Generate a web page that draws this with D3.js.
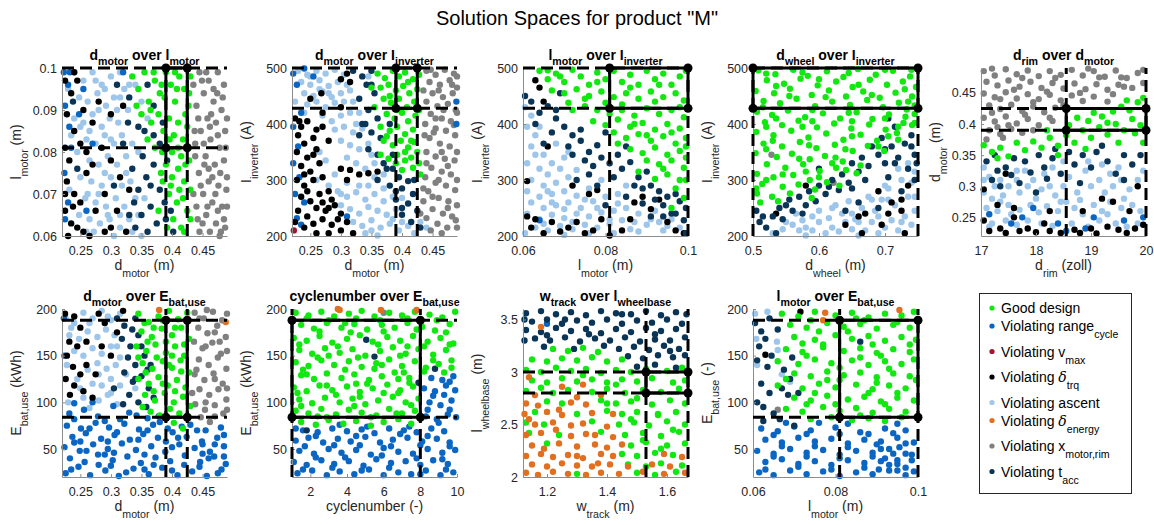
<!DOCTYPE html>
<html>
<head>
<meta charset="utf-8">
<script src="https://cdn.jsdelivr.net/npm/d3@7"></script>
<style>
  body { margin: 0; background: #fff; }
  svg { font-family: "Liberation Sans", Arial, sans-serif; }
</style>
</head>
<body>
<svg id="chart" width="1154" height="525"></svg>
<script>
// ---- categories (legend order) ----
const categoryKeys = ['good', 'range', 'vmax', 'trq', 'ascent', 'energy', 'xmotor', 'tacc']
const categoryLabels = [
  ['Good design'],
  ['Violating range', '_cycle'],
  ['Violating v', '_max'],
  ['Violating ', '*δ', '_trq'],
  ['Violating ascent'],
  ['Violating ', '*δ', '_energy'],
  ['Violating x', '_motor,rim'],
  ['Violating t', '_acc'],
]
const categoryColors = ['#10e810', '#0a66c2', '#a2142f', '#000000', '#9ec6ea', '#e07020', '#808080', '#0b3556']
const drawOrder = ['ascent', 'xmotor', 'range', 'trq', 'tacc', 'good', 'energy', 'vmax']

// ---- panel 1: d_motor over l_motor ----
const p1Xmotor = [[0.445,0.099],[0.46,0.097],[0.475,0.099],[0.485,0.096],[0.452,0.094],[0.468,0.092],[0.481,0.09],[0.44,0.091],[0.458,0.088],[0.472,0.087],[0.487,0.085],[0.447,0.085],[0.463,0.083],[0.478,0.081],[0.438,0.079],[0.455,0.079],[0.47,0.077],[0.485,0.078],[0.444,0.075],[0.46,0.073],[0.476,0.072],[0.489,0.071],[0.451,0.07],[0.466,0.068],[0.482,0.067],[0.44,0.067],[0.456,0.065],[0.472,0.063],[0.487,0.062],[0.445,0.061],[0.462,0.061],[0.478,0.06],[0.468,0.095],[0.449,0.097],[0.483,0.093],[0.464,0.089],[0.475,0.084],[0.452,0.082],[0.488,0.081],[0.46,0.076],[0.447,0.072],[0.479,0.075],[0.471,0.07],[0.458,0.067],[0.485,0.064],[0.437,0.085],[0.442,0.064],[0.466,0.074],[0.453,0.077],[0.48,0.061],
  [0.435,0.096],[0.49,0.088],[0.443,0.088],[0.49,0.074],[0.435,0.07],[0.45,0.063],[0.49,0.067],[0.475,0.066],[0.462,0.086],[0.438,0.082],[0.456,0.099],[0.474,0.094]]
const p1Good = [[0.335,0.098],[0.345,0.095],[0.355,0.099],[0.362,0.092],[0.372,0.097],[0.38,0.094],[0.39,0.099],[0.398,0.096],[0.405,0.092],[0.412,0.098],[0.42,0.095],[0.427,0.091],[0.35,0.089],[0.366,0.087],[0.378,0.089],[0.386,0.085],[0.395,0.088],[0.403,0.084],[0.41,0.087],[0.418,0.083],[0.425,0.086],[0.36,0.083],[0.372,0.081],[0.384,0.08],[0.4,0.08],[0.415,0.079],[0.43,0.098],[0.342,0.091],[0.388,0.093],[0.408,0.095],[0.422,0.089],[0.396,0.083],[0.39,0.077],[0.4,0.074],[0.41,0.076],[0.42,0.073],[0.428,0.078],[0.395,0.07],[0.408,0.068],[0.418,0.069],[0.425,0.066],[0.402,0.064],[0.415,0.062],[0.385,0.073],[0.43,0.071],[0.378,0.066],[0.392,0.062],[0.412,0.071],[0.422,0.077],
  [0.37,0.099],[0.383,0.096],[0.405,0.099],[0.392,0.083],[0.428,0.094],[0.365,0.09],[0.41,0.081],[0.43,0.064],[0.42,0.061],[0.398,0.072],[0.382,0.075]]
const p1Tacc = [[0.31,0.096],[0.33,0.093],[0.345,0.086],[0.36,0.096],[0.37,0.084],[0.352,0.079],[0.335,0.076],[0.345,0.071],[0.358,0.074],[0.37,0.077],[0.38,0.071],[0.365,0.067],[0.35,0.065],[0.338,0.068],[0.375,0.063],[0.388,0.068],[0.36,0.061],[0.392,0.078],[0.32,0.082],[0.398,0.066],[0.34,0.062],[0.305,0.072],[0.37,0.091],[0.385,0.087],[0.328,0.087],[0.238,0.092],[0.245,0.076],
  [0.355,0.085],[0.38,0.082],[0.39,0.064],[0.365,0.072],[0.33,0.065],[0.402,0.061]]
const p1Ascent = [[0.24,0.099],[0.255,0.097],[0.27,0.099],[0.285,0.096],[0.3,0.098],[0.315,0.099],[0.248,0.093],[0.262,0.092],[0.278,0.094],[0.292,0.091],[0.305,0.093],[0.322,0.095],[0.24,0.088],[0.255,0.087],[0.27,0.089],[0.285,0.086],[0.298,0.088],[0.312,0.087],[0.328,0.09],[0.26,0.083],[0.275,0.082],[0.29,0.084],[0.305,0.082],[0.318,0.084],[0.335,0.082],[0.245,0.08],[0.265,0.078],[0.28,0.077],[0.295,0.079],[0.31,0.077],[0.325,0.079],[0.25,0.074],[0.268,0.073],[0.285,0.072],[0.3,0.074],[0.318,0.072],[0.332,0.073],[0.258,0.069],[0.275,0.068],[0.292,0.067],[0.308,0.069],[0.322,0.067],[0.34,0.069],[0.248,0.065],[0.265,0.064],[0.282,0.063],[0.298,0.064],[0.315,0.062],[0.33,0.064],[0.35,0.06],[0.272,0.061],[0.305,0.06],[0.355,0.069],[0.36,0.088],[0.345,0.08],[0.315,0.093],[0.28,0.09],[0.262,0.07],[0.29,0.075],[0.235,0.084],[0.232,0.071],[0.34,0.096],[0.35,0.092],
  [0.23,0.095],[0.265,0.085],[0.29,0.095],[0.31,0.09],[0.26,0.061],[0.28,0.07],[0.315,0.065],[0.335,0.061],[0.3,0.083],[0.325,0.075],[0.345,0.065],[0.25,0.086],[0.275,0.097],[0.295,0.065],[0.33,0.096]]
const p1Trq = [[0.225,0.097],[0.235,0.094],[0.228,0.089],[0.24,0.085],[0.225,0.081],[0.232,0.078],[0.228,0.073],[0.24,0.07],[0.225,0.066],[0.235,0.063],[0.245,0.062],[0.255,0.061],[0.265,0.06],[0.26,0.075],[0.275,0.066],[0.29,0.07],[0.3,0.062],[0.31,0.066],[0.285,0.081],[0.3,0.089],[0.32,0.091],[0.245,0.097],[0.25,0.082],[0.27,0.087],[0.315,0.074],[0.325,0.061],[0.26,0.08],[0.28,0.092],[0.33,0.071],[0.23,0.06],
  [0.225,0.07],[0.238,0.067],[0.25,0.068],[0.27,0.077],[0.29,0.061],[0.255,0.09],[0.3,0.078],[0.24,0.099]]
const p1Range = [[0.223,0.099],[0.23,0.096],[0.225,0.091],[0.232,0.086],[0.224,0.075],[0.23,0.068],[0.225,0.064],[0.235,0.081],[0.248,0.089],[0.255,0.095],[0.27,0.082],[0.26,0.066],[0.233,0.099],[0.32,0.099]]

// ---- panel 2: d_motor over I_inverter ----
const p2Xmotor = [[0.44,495],[0.455,488],[0.47,497],[0.485,490],[0.445,475],[0.462,470],[0.478,478],[0.49,465],[0.45,455],[0.467,448],[0.483,455],[0.44,440],[0.458,432],[0.475,436],[0.488,425],[0.447,418],[0.465,410],[0.48,405],[0.438,400],[0.455,392],[0.472,388],[0.487,380],[0.445,375],[0.462,365],[0.478,360],[0.44,350],[0.455,342],[0.47,338],[0.486,335],[0.448,322],[0.465,315],[0.48,310],[0.438,305],[0.455,295],[0.472,290],[0.487,282],[0.443,280],[0.46,268],[0.476,262],[0.49,255],[0.435,262],[0.45,248],[0.467,240],[0.482,235],[0.44,232],[0.458,222],[0.474,215],[0.488,228],[0.43,240],[0.447,210],[0.465,205],[0.435,285],[0.482,470],[0.468,425],[0.452,385],[0.475,325],[0.46,300],
  [0.447,497],[0.49,485],[0.435,460],[0.46,460],[0.49,420],[0.437,380],[0.49,350],[0.44,330],[0.49,300],[0.45,270],[0.49,215],[0.475,250],[0.465,350],[0.455,410],[0.485,398]]
const p2Good = [[0.36,490],[0.372,482],[0.385,495],[0.395,485],[0.405,492],[0.418,480],[0.428,488],[0.365,465],[0.378,470],[0.39,460],[0.402,468],[0.412,455],[0.425,462],[0.37,445],[0.382,438],[0.395,445],[0.408,430],[0.42,440],[0.375,418],[0.388,410],[0.4,420],[0.41,405],[0.422,415],[0.365,395],[0.38,388],[0.392,395],[0.405,382],[0.418,390],[0.37,370],[0.385,362],[0.398,370],[0.41,358],[0.42,368],[0.365,345],[0.378,338],[0.392,345],[0.405,335],[0.415,340],[0.425,350],[0.4,318],[0.418,322],[0.43,310],[0.35,465],[0.355,430],
  [0.38,450],[0.41,475],[0.392,425],[0.428,425],[0.375,378],[0.415,370],[0.39,330],[0.428,330],[0.405,350]]
const p2Tacc = [[0.32,495],[0.335,485],[0.35,495],[0.342,470],[0.355,455],[0.33,445],[0.345,425],[0.36,410],[0.335,400],[0.35,385],[0.365,375],[0.38,400],[0.37,330],[0.385,320],[0.395,305],[0.41,298],[0.4,285],[0.418,275],[0.38,290],[0.39,265],[0.41,258],[0.425,245],[0.4,238],[0.415,225],[0.43,215],[0.36,300],[0.36,345],[0.345,355],[0.385,345],[0.42,300],[0.33,380],
  [0.35,470],[0.34,400],[0.39,280],[0.4,250],[0.375,320]]
const p2Ascent = [[0.23,495],[0.245,488],[0.26,495],[0.275,490],[0.29,497],[0.305,488],[0.235,475],[0.25,470],[0.265,478],[0.28,468],[0.295,475],[0.31,470],[0.24,455],[0.255,450],[0.27,458],[0.285,448],[0.3,455],[0.315,460],[0.245,435],[0.26,440],[0.275,430],[0.29,438],[0.32,440],[0.27,415],[0.285,405],[0.3,415],[0.315,420],[0.33,420],[0.29,390],[0.305,395],[0.32,385],[0.335,392],[0.3,370],[0.315,362],[0.33,355],[0.345,365],[0.31,340],[0.325,330],[0.34,320],[0.355,330],[0.265,350],[0.275,335],[0.26,300],[0.28,290],[0.295,280],[0.31,270],[0.325,278],[0.34,265],[0.355,275],[0.37,262],[0.385,270],[0.3,255],[0.315,248],[0.33,240],[0.345,252],[0.36,245],[0.375,238],[0.39,248],[0.32,225],[0.335,218],[0.35,228],[0.365,215],[0.38,222],[0.395,210],[0.41,218],[0.42,205],[0.34,205],[0.36,201],[0.44,215],[0.43,225],[0.355,305],[0.37,310],[0.4,268],[0.29,310],[0.345,290],
  [0.24,420],[0.225,440],[0.28,455],[0.305,440],[0.325,400],[0.35,345],[0.31,295],[0.33,290],[0.37,285],[0.385,230],[0.4,225],[0.35,210],[0.3,275],[0.265,462],[0.25,485],[0.345,485]]
const p2Trq = [[0.225,410],[0.235,395],[0.245,405],[0.23,380],[0.24,365],[0.255,375],[0.228,350],[0.245,340],[0.26,355],[0.235,325],[0.25,315],[0.265,330],[0.228,300],[0.24,290],[0.255,300],[0.27,305],[0.235,270],[0.25,262],[0.265,275],[0.28,280],[0.285,265],[0.23,245],[0.245,235],[0.26,250],[0.275,245],[0.29,255],[0.24,215],[0.255,222],[0.27,230],[0.285,220],[0.3,240],[0.31,225],[0.3,210],[0.32,205],[0.26,205],[0.28,205],[0.26,390],[0.28,370],[0.3,320],[0.315,318],[0.33,310],[0.345,312],[0.25,445],[0.268,455],[0.3,430],[0.31,490],[0.315,475],[0.3,480],[0.27,420],[0.36,315],
  [0.232,405],[0.27,395],[0.255,345],[0.24,310],[0.28,250],[0.295,230],[0.245,280],[0.27,260],[0.225,225],[0.31,300]]
const p2Range = [[0.222,490],[0.228,470],[0.24,499],[0.255,485],[0.235,420],[0.222,395],[0.23,360],[0.222,330],[0.232,305],[0.225,275],[0.24,260],[0.228,232],[0.235,220],[0.31,235],[0.489,440],[0.489,400]]
const p2Vmax = [[0.223,210]]

// ---- panel 3: l_motor over I_inverter ----
const p3Good = [[0.064,495],[0.066,480],[0.068,490],[0.07,475],[0.072,497],[0.074,485],[0.076,470],[0.078,492],[0.08,480],[0.082,495],[0.084,475],[0.086,488],[0.088,470],[0.09,495],[0.092,480],[0.094,490],[0.096,470],[0.098,485],[0.0995,495],[0.067,460],[0.07,455],[0.073,462],[0.076,450],[0.079,458],[0.082,448],[0.085,455],[0.088,445],[0.091,458],[0.094,448],[0.097,455],[0.099,442],[0.071,438],[0.075,432],[0.078,425],[0.081,418],[0.084,425],[0.087,415],[0.09,428],[0.093,418],[0.096,425],[0.099,412],[0.077,405],[0.08,398],[0.083,408],[0.086,395],[0.089,402],[0.092,390],[0.095,400],[0.098,392],[0.082,385],[0.085,375],[0.088,382],[0.091,370],[0.094,378],[0.097,365],[0.0995,375],[0.086,355],[0.089,348],[0.092,358],[0.095,345],[0.098,352],[0.09,335],[0.093,328],[0.096,335],[0.099,322],[0.088,315],[0.095,310],[0.098,300],[0.092,302],[0.097,285],[0.099,268],[0.075,445],[0.072,425],[0.08,438],[0.083,365],[0.096,250],[0.0995,340],
  [0.078,475],[0.086,465],[0.093,470],[0.069,485],[0.084,435],[0.092,440],[0.098,430],[0.087,400],[0.096,385],[0.09,380],[0.0995,360],[0.094,320],[0.0995,300],[0.066,496]]
const p3Tacc = [[0.0605,450],[0.062,440],[0.064,420],[0.066,432],[0.068,410],[0.07,395],[0.067,385],[0.072,380],[0.074,370],[0.071,360],[0.076,350],[0.078,362],[0.075,335],[0.079,340],[0.081,330],[0.083,345],[0.084,320],[0.086,332],[0.082,305],[0.088,305],[0.09,315],[0.087,290],[0.091,290],[0.093,280],[0.092,265],[0.095,270],[0.097,275],[0.094,255],[0.098,262],[0.096,240],[0.0995,250],[0.099,228],[0.085,360],[0.08,385],[0.065,365],[0.069,455],[0.072,345],[0.076,310],[0.078,290],[0.085,270],[0.089,258],[0.08,255],[0.073,300],[0.063,400],[0.0995,205],[0.091,235],
  [0.068,425],[0.074,390],[0.077,325],[0.089,285],[0.097,240],[0.094,235]]
const p3Ascent = [[0.0605,430],[0.062,415],[0.061,395],[0.063,380],[0.062,360],[0.065,345],[0.061,330],[0.064,320],[0.067,330],[0.066,310],[0.069,320],[0.07,340],[0.062,300],[0.065,290],[0.068,295],[0.071,305],[0.073,318],[0.061,280],[0.064,270],[0.067,275],[0.07,280],[0.073,272],[0.076,285],[0.062,260],[0.065,250],[0.068,255],[0.071,260],[0.074,250],[0.077,262],[0.08,270],[0.083,275],[0.061,240],[0.064,230],[0.067,238],[0.07,232],[0.073,240],[0.076,235],[0.079,242],[0.082,245],[0.085,250],[0.088,240],[0.063,215],[0.066,210],[0.069,218],[0.072,212],[0.075,220],[0.078,215],[0.081,222],[0.084,228],[0.087,225],[0.09,220],[0.093,225],[0.096,230],[0.07,202],[0.076,205],[0.082,205],[0.088,208],[0.094,210],[0.098,215],[0.085,290],[0.079,300],[0.071,350],[0.068,365],[0.064,395],[0.066,280],[0.092,245],
  [0.063,345],[0.067,260],[0.075,265],[0.072,290],[0.078,250],[0.081,230],[0.086,212],[0.091,230],[0.095,218],[0.065,222],[0.072,225],[0.0605,205],[0.083,258],[0.07,248]]
const p3Trq = [[0.061,235],[0.063,230],[0.062,215],[0.065,205],[0.067,225],[0.069,208],[0.071,215],[0.073,225],[0.075,205],[0.077,210],[0.079,230],[0.081,201],[0.084,210],[0.087,260],[0.089,270],[0.091,248],[0.093,265],[0.095,225],[0.097,210],[0.099,205],[0.072,290],[0.076,275],[0.078,282],[0.064,465],[0.066,360],[0.061,298],[0.086,230],[0.065,440],[0.063,478]]
const p3Range = [[0.064,228]]

// ---- panel 4: d_wheel over I_inverter ----
const p4Good = [[0.508,496],[0.534,489],[0.561,497],[0.583,486],[0.612,494],[0.637,484],[0.659,498],[0.686,488],[0.712,495],[0.738,485],[0.521,478],[0.547,472],[0.572,481],[0.598,469],[0.626,476],[0.651,466],[0.677,479],[0.703,470],[0.727,476],[0.747,466],[0.504,459],[0.532,455],[0.556,463],[0.589,452],[0.615,460],[0.641,449],[0.667,458],[0.692,447],[0.716,456],[0.741,449],[0.516,441],[0.541,437],[0.566,445],[0.594,432],[0.62,440],[0.647,434],[0.673,443],[0.697,430],[0.721,438],[0.745,433],[0.506,422],[0.529,416],[0.553,424],[0.579,412],[0.606,419],[0.632,410],[0.657,421],[0.681,409],[0.706,417],[0.731,413],[0.518,403],[0.544,398],[0.569,406],[0.597,394],[0.623,401],[0.649,392],[0.676,399],[0.701,390],[0.741,398],[0.505,386],[0.531,380],[0.558,388],[0.584,376],[0.611,383],[0.637,372],[0.663,381],[0.688,370],[0.718,384],[0.516,365],[0.544,360],[0.571,368],[0.596,357],[0.624,363],[0.651,352],[0.674,361],[0.699,352],[0.504,348],[0.536,341],[0.559,347],[0.586,337],[0.609,343],[0.636,333],[0.663,326],[0.521,328],[0.549,322],[0.576,328],[0.601,316],[0.626,322],[0.657,312],[0.506,311],[0.531,305],[0.561,309],[0.586,300],[0.612,296],[0.641,318],[0.514,293],[0.545,288],[0.569,292],[0.594,283],[0.631,290],[0.506,276],[0.529,270],[0.556,276],[0.589,268],[0.511,260],[0.538,262],[0.728,402],[0.745,418],[0.733,426],[0.72,372],
  [0.52,490],[0.575,492],[0.645,491],[0.7,497],[0.74,497],[0.535,468],[0.6,480],[0.66,470],[0.73,462],[0.555,450],[0.61,448],[0.68,452],[0.735,440],[0.515,430],[0.59,425],[0.645,420],[0.7,410],[0.745,402],[0.535,410],[0.59,405],[0.65,405],[0.72,395],[0.52,395],[0.575,395],[0.65,378],[0.705,378],[0.53,370],[0.585,362],[0.64,355],[0.69,360],[0.52,355],[0.57,338],[0.625,340],[0.545,310],[0.6,305],[0.52,300],[0.58,315],[0.62,330],[0.505,285]]
const p4Tacc = [[0.505,245],[0.51,225],[0.52,215],[0.53,235],[0.54,250],[0.545,230],[0.555,265],[0.56,245],[0.57,270],[0.58,255],[0.585,280],[0.595,262],[0.6,290],[0.61,275],[0.62,300],[0.63,282],[0.635,310],[0.645,295],[0.65,330],[0.66,315],[0.665,340],[0.675,325],[0.68,360],[0.69,345],[0.695,375],[0.7,330],[0.71,360],[0.715,395],[0.72,340],[0.73,365],[0.735,320],[0.745,345],[0.74,380],[0.745,300],[0.725,280],[0.705,305],[0.66,260],[0.64,245],[0.69,250],[0.65,285],[0.535,205],[0.6,320],[0.705,410],[0.575,240],
  [0.515,235],[0.55,255],[0.615,288],[0.67,300],[0.74,360],[0.748,330],[0.715,330],[0.7,355]]
const p4Ascent = [[0.53,205],[0.545,212],[0.56,220],[0.575,228],[0.59,235],[0.6,245],[0.615,232],[0.625,255],[0.635,240],[0.645,262],[0.655,230],[0.665,250],[0.675,270],[0.685,245],[0.695,265],[0.705,285],[0.715,255],[0.725,300],[0.735,270],[0.745,245],[0.74,220],[0.73,235],[0.72,210],[0.71,228],[0.7,215],[0.69,205],[0.68,225],[0.67,210],[0.66,201],[0.65,212],[0.64,225],[0.63,208],[0.62,215],[0.61,205],[0.59,210],[0.58,215],[0.55,225],[0.565,240],[0.72,320],[0.735,330],[0.745,315],[0.7,290],[0.65,240],[0.58,201],
  [0.6,225],[0.62,250],[0.66,225],[0.69,235],[0.705,265],[0.745,270],[0.74,295],[0.725,225],[0.57,210],[0.68,265]]
const p4Trq = [[0.535,240],[0.58,290],[0.64,220],[0.665,205],[0.67,240],[0.69,280],[0.695,220],[0.71,260],[0.725,265],[0.73,205],[0.735,290],[0.725,245],[0.66,235],[0.705,240]]
const p4Xmotor = [[0.528,345],[0.622,295]]

// ---- panel 5: d_rim over d_motor ----
const p5Xmotor = [[17.05,0.485],[17.25,0.478],[17.45,0.488],[17.65,0.48],[17.85,0.486],[18.05,0.477],[18.25,0.485],[18.45,0.479],[18.65,0.487],[18.85,0.478],[19.05,0.485],[19.25,0.476],[19.45,0.486],[19.65,0.474],[19.85,0.482],[17.1,0.468],[17.3,0.462],[17.5,0.47],[17.7,0.46],[17.9,0.468],[18.1,0.458],[18.3,0.466],[18.5,0.457],[18.7,0.465],[18.9,0.456],[19.1,0.464],[19.3,0.455],[19.5,0.463],[19.75,0.458],[19.95,0.466],[17.05,0.449],[17.25,0.443],[17.45,0.451],[17.65,0.441],[17.85,0.448],[18.05,0.44],[18.25,0.447],[18.45,0.438],[18.65,0.446],[18.85,0.437],[19.05,0.444],[19.3,0.436],[17.15,0.43],[17.35,0.424],[17.55,0.431],[17.75,0.421],[17.95,0.428],[18.15,0.419],[18.35,0.426],[17.05,0.41],[17.25,0.404],[17.45,0.412],[17.65,0.401],[17.85,0.408],[18.05,0.398],[18.3,0.405],[17.15,0.39],[17.35,0.384],[17.55,0.392],[17.75,0.386],[17.95,0.39],[17.1,0.375],[17.4,0.378],
  [17.2,0.489],[17.75,0.474],[18.35,0.474],[18.95,0.489],[19.55,0.475],[19.95,0.487],[17.6,0.455],[18.2,0.452],[18.8,0.45],[19.4,0.448],[17.35,0.44],[17.95,0.435],[18.5,0.43],[17.2,0.418],[17.8,0.415],[18.25,0.41],[17.5,0.398],[17.3,0.395],[19.15,0.475],[19.6,0.46]]
const p5Good = [[17.05,0.366],[17.2,0.355],[17.35,0.362],[17.5,0.348],[17.65,0.37],[17.8,0.358],[17.95,0.372],[18.1,0.362],[18.25,0.378],[18.4,0.365],[18.55,0.382],[18.7,0.37],[18.85,0.39],[19.0,0.378],[19.15,0.395],[19.3,0.383],[19.45,0.4],[19.6,0.39],[19.75,0.408],[19.9,0.398],[18.2,0.39],[18.6,0.398],[18.95,0.405],[19.2,0.412],[19.4,0.42],[19.55,0.428],[19.7,0.422],[19.85,0.435],[19.95,0.442],[19.65,0.438],[19.05,0.418],[18.75,0.41],[19.3,0.402],[19.8,0.385],[18.4,0.35],[18.9,0.36],[19.5,0.37],[17.3,0.345],[19.95,0.37]]
const p5Tacc = [[17.1,0.34],[17.3,0.325],[17.2,0.31],[17.45,0.33],[17.6,0.345],[17.55,0.318],[17.8,0.34],[17.9,0.322],[18.05,0.35],[18.15,0.33],[18.3,0.345],[18.2,0.312],[18.45,0.32],[18.6,0.355],[18.7,0.335],[18.85,0.35],[19.0,0.33],[19.1,0.355],[19.3,0.34],[19.45,0.32],[19.6,0.35],[19.75,0.335],[19.9,0.35],[17.35,0.3],[18.0,0.29],[18.8,0.305],
  [17.25,0.35],[18.35,0.36],[19.2,0.365],[17.7,0.305],[19.6,0.31]]
const p5Ascent = [[17.05,0.33],[17.15,0.315],[17.25,0.3],[17.35,0.31],[17.05,0.29],[17.2,0.28],[17.4,0.285],[17.5,0.3],[17.65,0.31],[17.7,0.29],[17.85,0.3],[17.95,0.31],[18.1,0.295],[18.25,0.3],[18.35,0.285],[18.5,0.3],[18.6,0.315],[18.75,0.29],[18.9,0.325],[19.0,0.3],[19.15,0.31],[19.25,0.29],[19.4,0.3],[19.55,0.31],[19.7,0.295],[19.85,0.31],[19.95,0.325],[17.1,0.265],[17.3,0.26],[17.5,0.27],[17.7,0.262],[17.9,0.27],[18.05,0.258],[18.2,0.268],[18.4,0.26],[18.55,0.275],[18.7,0.265],[18.85,0.255],[19.05,0.27],[19.2,0.26],[19.35,0.275],[19.55,0.265],[19.75,0.27],[19.9,0.26],[17.2,0.24],[17.45,0.245],[17.65,0.238],[17.85,0.245],[18.1,0.24],[18.3,0.236],[18.65,0.24],[18.95,0.235],[19.15,0.245],[19.45,0.24],[19.65,0.235],[19.85,0.24],[18.5,0.34],[18.3,0.33],[19.2,0.335],[17.8,0.325],[18.95,0.34],[19.5,0.33],
  [17.35,0.275],[17.55,0.255],[18.0,0.28],[18.45,0.275],[18.8,0.278],[19.3,0.255],[19.6,0.28],[17.15,0.235],[17.05,0.31],[18.15,0.32],[19.35,0.32],[17.65,0.325]]
const p5Trq = [[17.05,0.245],[17.15,0.228],[17.35,0.232],[17.45,0.225],[17.6,0.25],[17.7,0.228],[17.85,0.232],[18.0,0.226],[18.15,0.24],[18.25,0.228],[18.45,0.225],[18.7,0.23],[18.8,0.225],[19.0,0.232],[19.1,0.224],[19.3,0.235],[19.5,0.23],[19.65,0.225],[19.8,0.232],[19.95,0.238],[17.05,0.295],[17.3,0.27],[17.45,0.32],[18.25,0.26],[19.2,0.28],[19.4,0.275],[19.7,0.26],[19.85,0.3],[18.85,0.26],[17.6,0.265]]
const p5Range = [[17.15,0.255],[17.55,0.24],[17.75,0.25],[18.4,0.24],[18.9,0.232],[19.05,0.25],[19.6,0.245],[19.95,0.25],[17.95,0.265],[18.55,0.228]]

// ---- panel 6: d_motor over E_bat,use ----
const p6Range = [[0.226,24],[0.247,31],[0.266,22],[0.291,27],[0.313,21],[0.337,29],[0.362,23],[0.384,30],[0.409,22],[0.433,26],[0.457,21],[0.481,28],[0.233,40],[0.257,36],[0.279,44],[0.303,38],[0.327,42],[0.349,35],[0.373,41],[0.397,37],[0.421,43],[0.446,36],[0.469,42],[0.488,34],[0.224,52],[0.249,48],[0.271,55],[0.295,50],[0.318,56],[0.341,49],[0.366,53],[0.389,47],[0.412,55],[0.437,51],[0.462,47],[0.485,53],[0.237,63],[0.259,67],[0.284,61],[0.306,65],[0.331,60],[0.353,66],[0.377,62],[0.401,68],[0.424,63],[0.449,58],[0.474,62],[0.228,75],[0.251,72],[0.275,78],[0.297,73],[0.322,77],[0.346,71],[0.369,76],[0.393,72],[0.416,74],[0.441,70],[0.232,88],[0.256,92],[0.279,85],[0.304,96],[0.33,89],[0.36,83],[0.24,99],[0.27,100],[0.315,82],[0.378,85],[0.29,44],[0.355,28],[0.42,33],[0.47,55],[0.25,58],[0.39,58],[0.3,32],[0.45,45],[0.223,190],[0.224,150],
  [0.235,28],[0.28,33],[0.325,25],[0.37,33],[0.4,27],[0.445,31],[0.475,24],[0.26,48],[0.305,46],[0.355,44],[0.4,52],[0.45,55],[0.24,57],[0.295,58],[0.345,60],[0.41,62],[0.485,65],[0.265,72],[0.31,68],[0.36,70],[0.43,76],[0.48,73],[0.455,70],[0.24,82],[0.29,80],[0.38,79],[0.342,86],[0.46,40],[0.485,42]]
const p6Good = [[0.345,195],[0.362,186],[0.378,192],[0.395,198],[0.41,189],[0.425,196],[0.35,176],[0.367,170],[0.383,179],[0.4,172],[0.415,180],[0.428,168],[0.342,160],[0.358,155],[0.373,162],[0.39,153],[0.405,160],[0.42,150],[0.352,142],[0.368,136],[0.385,144],[0.4,137],[0.414,145],[0.428,132],[0.345,125],[0.362,120],[0.378,127],[0.393,118],[0.408,124],[0.422,116],[0.356,108],[0.372,102],[0.388,110],[0.403,100],[0.418,106],[0.43,96],[0.365,90],[0.38,86],[0.397,93],[0.412,88],[0.425,84],[0.403,78],[0.418,72],[0.352,95],[0.39,165],[0.375,148],
  [0.355,185],[0.385,188],[0.405,180],[0.42,162],[0.36,165],[0.395,140],[0.357,132],[0.415,133],[0.385,120],[0.37,112],[0.405,112],[0.4,150],[0.345,148],[0.37,180]]
const p6Xmotor = [[0.437,196],[0.452,190],[0.467,197],[0.482,188],[0.443,180],[0.458,174],[0.474,182],[0.488,170],[0.436,165],[0.45,158],[0.466,164],[0.48,152],[0.444,146],[0.46,140],[0.475,148],[0.489,136],[0.437,130],[0.453,124],[0.468,131],[0.483,120],[0.445,114],[0.461,108],[0.476,114],[0.489,103],[0.438,98],[0.454,92],[0.47,97],[0.484,88],[0.447,84],[0.462,79],[0.433,110],[0.478,165],[0.457,199],
  [0.445,190],[0.49,195],[0.47,175],[0.455,160],[0.49,155],[0.44,135],[0.47,125],[0.49,115],[0.455,100],[0.47,85],[0.49,92]]
const p6Tacc = [[0.31,190],[0.322,182],[0.318,168],[0.332,160],[0.345,172],[0.328,148],[0.34,140],[0.355,150],[0.322,132],[0.336,122],[0.35,128],[0.362,115],[0.33,108],[0.345,100],[0.358,95],[0.37,105],[0.32,98],[0.305,115],[0.335,178],[0.36,135],
  [0.34,190],[0.35,160],[0.365,140],[0.34,125]]
const p6Ascent = [[0.226,190],[0.24,185],[0.255,196],[0.27,190],[0.285,198],[0.3,188],[0.315,195],[0.232,172],[0.248,168],[0.262,176],[0.278,170],[0.292,178],[0.306,172],[0.24,155],[0.255,150],[0.27,158],[0.285,152],[0.3,160],[0.228,140],[0.262,135],[0.278,142],[0.293,136],[0.308,140],[0.245,125],[0.27,120],[0.285,118],[0.3,125],[0.315,118],[0.255,105],[0.28,102],[0.295,108],[0.31,98],[0.23,100],[0.265,94],[0.325,130],[0.34,115],
  [0.235,180],[0.265,185],[0.295,192],[0.31,160],[0.28,130],[0.25,115],[0.3,110],[0.315,148]]
const p6Trq = [[0.225,195],[0.24,192],[0.25,180],[0.232,165],[0.245,160],[0.228,150],[0.26,165],[0.238,138],[0.25,130],[0.226,125],[0.24,118],[0.255,112],[0.275,130],[0.285,160],[0.27,105],[0.29,185],[0.3,150],[0.28,195],[0.26,140],[0.233,108],[0.32,198],[0.31,175]]
const p6Energy = [[0.379,199],[0.488,186]]

// ---- panel 7: cyclenumber over E_bat,use ----
const p7Good = [[1.2,196],[1.9,193],[2.6,197],[3.3,192],[4.1,195],[4.8,198],[5.5,192],[6.3,196],[7.0,193],[7.7,197],[8.5,194],[9.2,191],[9.9,197],[1.5,183],[2.2,179],[2.9,185],[3.7,180],[4.4,184],[5.1,178],[5.9,183],[6.6,180],[7.3,185],[8.1,181],[8.8,177],[9.6,184],[1.1,169],[1.8,166],[2.5,171],[3.2,164],[4.0,168],[4.7,172],[5.4,165],[6.2,170],[6.9,166],[7.6,171],[8.4,165],[9.1,169],[9.8,163],[1.4,156],[2.1,152],[2.8,158],[3.6,153],[4.3,157],[5.0,150],[5.8,155],[6.5,159],[7.2,152],[7.9,157],[8.7,151],[9.4,156],[1.2,143],[1.9,139],[2.6,145],[3.3,140],[4.1,144],[4.8,138],[5.6,142],[6.3,146],[7.0,139],[7.7,144],[8.3,137],[9.0,141],[9.7,145],[1.5,129],[2.2,125],[2.9,131],[3.7,126],[4.4,130],[5.2,124],[5.9,128],[6.6,132],[7.4,126],[8.2,133],[9.3,132],[1.1,116],[1.8,112],[2.5,118],[3.2,113],[4.0,117],[4.7,111],[5.4,115],[6.2,119],[6.9,113],[7.6,117],[1.4,103],[2.1,99],[2.8,105],[3.6,100],[4.3,104],[5.0,98],[5.7,102],[6.5,106],[7.2,100],[7.9,104],[1.2,91],[1.9,88],[2.6,93],[3.4,87],[4.1,92],[4.8,89],[5.6,86],[6.3,93],[7.0,88],[7.7,91],[1.5,79],[2.3,76],[3.0,81],[3.8,77],[4.5,80],[5.3,75],[6.0,79],[6.8,82],[7.5,77],[1.6,135],[3.0,150],[4.5,120],[6.0,110],[7.3,160],[2.4,85],[5.9,140],[3.9,185],[6.8,125],[1.3,110],
  [1.8,190],[3.0,188],[4.5,190],[5.8,188],[7.3,190],[8.9,188],[2.5,176],[4.2,175],[6.0,176],[7.8,178],[9.4,175],[1.4,162],[3.5,160],[5.7,162],[8.2,160],[9.6,162],[2.4,148],[4.6,148],[6.9,150],[8.7,145],[1.8,130],[3.9,135],[5.5,136],[7.1,132],[9.7,137],[2.9,118],[5.1,120],[7.4,121],[3.4,108],[4.7,106],[6.8,110],[1.5,96],[4.4,96],[7.5,97],[2.9,84],[5.3,84],[6.7,88]]
const p7Range = [[1.3,24],[2.1,27],[2.9,22],[3.6,26],[4.4,23],[5.2,28],[6.0,22],[6.8,25],[7.5,23],[8.3,27],[9.1,22],[9.8,25],[1.1,36],[1.8,33],[2.6,38],[3.3,34],[4.1,37],[4.9,32],[5.6,39],[6.4,35],[7.2,37],[8.0,33],[8.7,38],[9.5,34],[1.4,48],[2.2,45],[3.0,50],[3.7,46],[4.5,49],[5.3,44],[6.0,51],[6.8,47],[7.6,45],[8.4,50],[9.2,46],[9.9,49],[1.2,59],[1.9,62],[2.7,57],[3.5,61],[4.2,58],[5.0,63],[5.8,57],[6.5,60],[7.3,62],[8.1,58],[8.9,61],[9.6,57],[1.6,70],[2.4,68],[3.2,72],[4.0,69],[4.8,71],[5.5,67],[6.3,72],[7.1,70],[7.8,68],[8.6,72],[9.3,69],[8.3,85],[8.9,82],[9.5,87],[9.95,84],[8.5,100],[9.1,97],[9.7,102],[8.2,115],[8.8,112],[9.4,118],[9.9,113],[8.6,126],[9.2,124],[9.8,128],[8.4,92],[9.3,108],
  [1.6,28],[3.2,30],[4.8,27],[6.3,30],[8.0,23],[9.4,28],[2.3,41],[3.9,41],[5.9,43],[7.8,40],[9.2,39],[1.7,53],[3.3,54],[4.7,54],[6.4,53],[8.0,54],[9.6,53],[2.3,64],[4.5,64],[6.9,66],[8.4,64],[1.2,72],[3.6,76],[5.1,74],[7.4,74],[9.0,78],[9.6,92],[8.7,107],[9.6,122]]
const p7Tacc = [[5.05,167],[5.5,149],[1.8,70],[8.8,136],[7.9,121]]
const p7Energy = [[3.6,199],[3.5,200],[5.85,199],[7.8,199],[1.05,188]]
const p7Xmotor = [[6.0,196]]

// ---- panel 8: w_track over l_wheelbase ----
const p8Tacc = [[1.13,3.56],[1.18,3.58],[1.23,3.55],[1.28,3.57],[1.33,3.54],[1.38,3.58],[1.43,3.56],[1.48,3.55],[1.53,3.58],[1.58,3.54],[1.63,3.57],[1.665,3.55],[1.15,3.48],[1.2,3.5],[1.25,3.46],[1.3,3.49],[1.35,3.47],[1.4,3.5],[1.45,3.46],[1.5,3.49],[1.55,3.47],[1.6,3.5],[1.65,3.46],[1.13,3.4],[1.18,3.38],[1.23,3.42],[1.28,3.39],[1.33,3.41],[1.38,3.37],[1.43,3.41],[1.48,3.38],[1.53,3.42],[1.58,3.39],[1.63,3.41],[1.16,3.32],[1.21,3.3],[1.26,3.33],[1.31,3.29],[1.36,3.32],[1.41,3.3],[1.46,3.33],[1.51,3.29],[1.56,3.31],[1.61,3.3],[1.66,3.33],[1.19,3.24],[1.29,3.22],[1.39,3.25],[1.44,3.22],[1.49,3.24],[1.54,3.21],[1.59,3.25],[1.64,3.22],[1.47,3.15],[1.52,3.13],[1.57,3.16],[1.62,3.14],[1.66,3.16],[1.5,3.05],[1.56,3.07],[1.63,3.04],[1.125,3.3],[1.125,3.5],
  [1.2,3.35],[1.34,3.36],[1.45,3.55],[1.56,3.36],[1.61,3.2],[1.26,3.5]]
const p8Good = [[1.22,3.22],[1.27,3.2],[1.32,3.23],[1.37,3.19],[1.15,3.12],[1.2,3.1],[1.25,3.13],[1.3,3.11],[1.35,3.14],[1.4,3.1],[1.45,3.12],[1.13,3.02],[1.18,3.0],[1.23,3.04],[1.28,3.01],[1.33,3.03],[1.38,2.99],[1.43,3.02],[1.48,3.0],[1.53,3.03],[1.6,3.01],[1.65,3.04],[1.15,2.92],[1.2,2.9],[1.25,2.94],[1.3,2.91],[1.35,2.93],[1.4,2.9],[1.45,2.93],[1.5,2.91],[1.55,2.94],[1.62,2.9],[1.66,2.92],[1.13,2.82],[1.22,2.8],[1.27,2.83],[1.35,2.81],[1.4,2.84],[1.46,2.8],[1.52,2.83],[1.58,2.81],[1.64,2.84],[1.2,2.72],[1.25,2.7],[1.38,2.73],[1.43,2.7],[1.48,2.72],[1.55,2.69],[1.61,2.73],[1.66,2.7],[1.16,2.62],[1.3,2.6],[1.4,2.63],[1.45,2.6],[1.5,2.62],[1.57,2.59],[1.63,2.62],[1.13,2.52],[1.19,2.5],[1.35,2.53],[1.44,2.5],[1.49,2.52],[1.54,2.49],[1.6,2.53],[1.66,2.5],[1.14,2.42],[1.24,2.4],[1.38,2.43],[1.46,2.4],[1.52,2.42],[1.58,2.39],[1.64,2.43],[1.2,2.32],[1.48,2.3],[1.53,2.33],[1.6,2.3],[1.66,2.32],[1.45,2.22],[1.5,2.2],[1.56,2.23],[1.62,2.21],[1.47,2.12],[1.53,2.1],[1.58,2.13],[1.65,2.11],[1.3,2.03],[1.5,2.04],[1.56,2.02],[1.63,2.05],
  [1.18,2.85],[1.32,2.97],[1.43,2.88],[1.5,2.75],[1.57,2.6],[1.52,2.35],[1.62,2.45],[1.4,2.7],[1.48,2.55],[1.58,2.27]]
const p8Energy = [[1.16,2.78],[1.3,2.76],[1.13,2.7],[1.17,2.68],[1.28,2.71],[1.33,2.69],[1.125,2.6],[1.2,2.62],[1.25,2.59],[1.35,2.61],[1.16,2.5],[1.22,2.52],[1.28,2.49],[1.32,2.51],[1.4,2.48],[1.13,2.4],[1.18,2.42],[1.28,2.39],[1.33,2.41],[1.42,2.38],[1.15,2.3],[1.24,2.32],[1.3,2.29],[1.36,2.31],[1.4,2.28],[1.45,2.31],[1.13,2.2],[1.18,2.22],[1.22,2.19],[1.27,2.21],[1.32,2.18],[1.38,2.22],[1.42,2.2],[1.59,2.22],[1.65,2.19],[1.15,2.12],[1.2,2.1],[1.25,2.13],[1.3,2.11],[1.35,2.1],[1.41,2.12],[1.55,2.12],[1.61,2.1],[1.13,2.04],[1.17,2.02],[1.22,2.05],[1.27,2.03],[1.33,2.02],[1.38,2.04],[1.44,2.03],[1.52,2.05],[1.59,2.03],[1.66,2.04],[1.14,2.95],[1.25,2.86],[1.38,2.78],[1.32,2.88],[1.18,3.43],[1.42,2.6],
  [1.14,2.55],[1.23,2.45],[1.36,2.4],[1.19,2.27],[1.3,2.2],[1.47,2.1],[1.24,2.64],[1.37,2.13]]
const p8Range = [[1.2,3.46]]

// ---- panel 9: l_motor over E_bat,use ----
const p9Range = [[0.0615,25],[0.065,22],[0.069,27],[0.073,23],[0.077,26],[0.081,21],[0.085,25],[0.089,23],[0.093,27],[0.097,22],[0.099,26],[0.063,36],[0.067,39],[0.071,34],[0.075,37],[0.079,33],[0.083,38],[0.087,35],[0.091,37],[0.095,34],[0.0985,38],[0.061,48],[0.065,45],[0.069,50],[0.073,46],[0.077,49],[0.081,44],[0.085,48],[0.089,46],[0.093,50],[0.097,45],[0.063,60],[0.067,57],[0.071,62],[0.075,58],[0.079,61],[0.083,56],[0.087,60],[0.091,58],[0.095,62],[0.099,57],[0.062,72],[0.066,69],[0.07,74],[0.074,70],[0.08,73],[0.086,68],[0.092,72],[0.097,70],[0.092,40],[0.094,45],[0.093,33],[0.095,38],[0.091,50],[0.0955,52],[0.0905,28],[0.097,30],[0.088,66],[0.076,78],
  [0.063,28],[0.071,31],[0.079,28],[0.087,30],[0.095,27],[0.065,42],[0.073,42],[0.081,40],[0.089,42],[0.0985,44],[0.067,53],[0.075,53],[0.083,52],[0.09,55],[0.097,56],[0.065,65],[0.073,66],[0.081,66],[0.094,67],[0.068,78],[0.083,77],[0.095,77]]
const p9Good = [[0.067,195],[0.071,192],[0.075,197],[0.08,193],[0.084,196],[0.088,191],[0.092,195],[0.096,193],[0.099,197],[0.069,183],[0.073,180],[0.078,185],[0.082,181],[0.086,184],[0.09,179],[0.094,183],[0.098,180],[0.07,170],[0.075,167],[0.08,172],[0.084,168],[0.088,171],[0.092,166],[0.096,170],[0.0995,167],[0.068,157],[0.072,154],[0.077,159],[0.082,155],[0.086,158],[0.09,153],[0.094,157],[0.098,154],[0.066,144],[0.071,141],[0.075,146],[0.079,142],[0.084,145],[0.088,140],[0.092,144],[0.096,141],[0.099,146],[0.07,131],[0.074,128],[0.078,133],[0.082,129],[0.086,132],[0.09,127],[0.094,131],[0.098,128],[0.066,118],[0.072,115],[0.076,120],[0.08,116],[0.085,119],[0.089,114],[0.093,118],[0.097,115],[0.07,105],[0.074,102],[0.078,107],[0.083,103],[0.087,106],[0.091,101],[0.095,105],[0.099,102],[0.068,93],[0.072,90],[0.077,95],[0.081,91],[0.085,94],[0.089,89],[0.093,93],[0.097,90],[0.074,82],[0.079,84],[0.084,81],[0.088,83],[0.092,80],[0.096,84],[0.076,176],[0.091,150],[0.081,124],[0.095,110],[0.073,98],[0.087,188],
  [0.074,188],[0.085,190],[0.095,186],[0.077,162],[0.089,162],[0.098,162],[0.073,150],[0.086,148],[0.081,137],[0.093,136],[0.068,125],[0.078,124],[0.09,121],[0.0995,124],[0.075,110],[0.088,110],[0.08,98],[0.092,98],[0.086,86],[0.083,176],[0.072,163]]
const p9Tacc = [[0.0605,185],[0.062,176],[0.064,190],[0.0615,160],[0.063,168],[0.066,178],[0.061,145],[0.0635,138],[0.062,120],[0.064,110],[0.067,115],[0.0685,108],[0.0625,95],[0.065,88],[0.0665,82],[0.0625,80],[0.07,75],[0.061,100],[0.0675,135],[0.0695,148],[0.071,110],[0.086,165],[0.0645,150],[0.069,125]]
const p9Ascent = [[0.0605,195],[0.0635,197],[0.0608,168],[0.0658,165],[0.061,140],[0.067,130],[0.069,122],[0.066,156]]
const p9Trq = [[0.0715,197],[0.063,151]]
const p9Energy = [[0.0775,196],[0.077,188],[0.0955,199]]
const p9Xmotor = [[0.066,92]]

// ---- axis ticks ----
const dmotorTicks = [0.25, 0.3, 0.35, 0.4, 0.45]
const lmotorTicks = [0.06, 0.07, 0.08, 0.09, 0.1]
const lmotorXTicks = [0.06, 0.08, 0.1]
const inverterTicks = [200, 300, 400, 500]
const dwheelTicks = [0.5, 0.6, 0.7]
const drimTicks = [17, 18, 19, 20]
const ebatTicks = [50, 100, 150, 200]
const cycleTicks = [2, 4, 6, 8, 10]
const wtrackTicks = [1.2, 1.4, 1.6]
const wheelbaseTicks = [2, 2.5, 3, 3.5]

// ---- panels ----
const panels = [
  { title: ['d', '_motor', ' over l', '_motor'], xLabel: ['d', '_motor', ' (m)'], yLabel: ['l', '_motor', ' (m)'],
    xDomain: [0.22, 0.49], yDomain: [0.06, 0.1], xTicks: dmotorTicks, yTicks: lmotorTicks, box: [0.39, 0.425, 0.081, 0.1],
    series: { good: p1Good, range: p1Range, trq: p1Trq, ascent: p1Ascent, xmotor: p1Xmotor, tacc: p1Tacc } },
  { title: ['d', '_motor', ' over I', '_inverter'], xLabel: ['d', '_motor', ' (m)'], yLabel: ['I', '_inverter', ' (A)'],
    xDomain: [0.22, 0.49], yDomain: [200, 500], xTicks: dmotorTicks, yTicks: inverterTicks, box: [0.39, 0.425, 428, 500],
    series: { good: p2Good, range: p2Range, vmax: p2Vmax, trq: p2Trq, ascent: p2Ascent, xmotor: p2Xmotor, tacc: p2Tacc } },
  { title: ['l', '_motor', ' over I', '_inverter'], xLabel: ['l', '_motor', ' (m)'], yLabel: ['I', '_inverter', ' (A)'],
    xDomain: [0.06, 0.1], yDomain: [200, 500], xTicks: lmotorXTicks, yTicks: inverterTicks, box: [0.081, 0.1, 428, 500],
    series: { good: p3Good, range: p3Range, trq: p3Trq, ascent: p3Ascent, tacc: p3Tacc } },
  { title: ['d', '_wheel', ' over I', '_inverter'], xLabel: ['d', '_wheel', ' (m)'], yLabel: ['I', '_inverter', ' (A)'],
    xDomain: [0.5, 0.75], yDomain: [200, 500], xTicks: dwheelTicks, yTicks: inverterTicks, box: [0.5, 0.75, 428, 500],
    series: { good: p4Good, trq: p4Trq, ascent: p4Ascent, xmotor: p4Xmotor, tacc: p4Tacc } },
  { title: ['d', '_rim', ' over d', '_motor'], xLabel: ['d', '_rim', ' (zoll)'], yLabel: ['d', '_motor', ' (m)'],
    xDomain: [17, 20], yDomain: [0.22, 0.49], xTicks: drimTicks, yTicks: dmotorTicks, box: [18.55, 20, 0.39, 0.425],
    series: { good: p5Good, range: p5Range, trq: p5Trq, ascent: p5Ascent, xmotor: p5Xmotor, tacc: p5Tacc } },
  { title: ['d', '_motor', ' over E', '_bat,use'], xLabel: ['d', '_motor', ' (m)'], yLabel: ['E', '_bat,use', ' (kWh)'],
    xDomain: [0.22, 0.49], yDomain: [20, 200], xTicks: dmotorTicks, yTicks: ebatTicks, box: [0.39, 0.425, 84, 188],
    series: { good: p6Good, range: p6Range, trq: p6Trq, ascent: p6Ascent, energy: p6Energy, xmotor: p6Xmotor, tacc: p6Tacc } },
  { title: ['cyclenumber over E', '_bat,use'], xLabel: ['cyclenumber (-)'], yLabel: ['E', '_bat,use', ' (kWh)'],
    xDomain: [1, 10], yDomain: [20, 200], xTicks: cycleTicks, yTicks: ebatTicks, box: [1, 8, 84, 188],
    series: { good: p7Good, range: p7Range, energy: p7Energy, xmotor: p7Xmotor, tacc: p7Tacc } },
  { title: ['w', '_track', ' over l', '_wheelbase'], xLabel: ['w', '_track', ' (m)'], yLabel: ['l', '_wheelbase', ' (m)'],
    xDomain: [1.12, 1.67], yDomain: [2, 3.6], xTicks: wtrackTicks, yTicks: wheelbaseTicks, box: [1.53, 1.67, 2.8, 3.0],
    series: { good: p8Good, range: p8Range, energy: p8Energy, tacc: p8Tacc } },
  { title: ['l', '_motor', ' over E', '_bat,use'], xLabel: ['l', '_motor', ' (m)'], yLabel: ['E', '_bat,use', ' (-)'],
    xDomain: [0.06, 0.1], yDomain: [20, 200], xTicks: lmotorXTicks, yTicks: ebatTicks, box: [0.081, 0.1, 84, 188],
    series: { good: p9Good, range: p9Range, trq: p9Trq, ascent: p9Ascent, energy: p9Energy, xmotor: p9Xmotor, tacc: p9Tacc } },
]

// layout
const colLeft = [62, 292, 523, 753, 981]
const rowTop = [68, 309]
const plotW = 165
const plotH = 168
const textColor = '#262626'
const axisColor = '#8c8c8c'

const svg = d3.select('#chart')

// text with "_sub" and "*italic" parts
function rich(sel, parts, size, shift) {
  let inSub = false
  parts.forEach(p => {
    const isSub = p.startsWith('_')
    const isItalic = p.startsWith('*')
    const t = isSub || isItalic ? p.slice(1) : p
    const ts = sel.append('tspan').text(t)
    if (isSub) {
      ts.attr('font-size', size * 0.76)
      if (!inSub) ts.attr('dy', shift)
    } else if (inSub) {
      ts.attr('dy', -shift)
    }
    if (isItalic) ts.attr('font-style', 'italic').attr('font-family', 'DejaVu Serif, serif')
    inSub = isSub
  })
}

svg.append('text')
  .attr('x', 577)
  .attr('y', 25)
  .attr('text-anchor', 'middle')
  .attr('font-size', 20)
  .attr('fill', '#000')
  .text('Solution Spaces for product "M"')

const colorOf = key => categoryColors[categoryKeys.indexOf(key)]

panels.forEach((p, i) => {
  const left = colLeft[i % 5]
  const top = rowTop[Math.floor(i / 5)]
  const g = svg.append('g').attr('transform', `translate(${left},${top})`)

  const x = d3.scaleLinear().domain(p.xDomain).range([0, plotW])
  const y = d3.scaleLinear().domain(p.yDomain).range([plotH, 0])

  // points
  drawOrder.forEach(key => {
    const pts = p.series[key]
    if (!pts) return
    g.append('g')
      .selectAll('circle')
      .data(pts)
      .join('circle')
      .attr('cx', d => x(d[0]))
      .attr('cy', d => y(d[1]))
      .attr('r', 3.2)
      .attr('fill', colorOf(key))
  })

  // axes
  const xAxis = g.append('g')
    .attr('transform', `translate(0,${plotH})`)
    .call(d3.axisBottom(x).tickValues(p.xTicks).tickFormat(d => String(d)).tickSizeInner(-3).tickSizeOuter(0).tickPadding(10))
  const yAxis = g.append('g')
    .call(d3.axisLeft(y).tickValues(p.yTicks).tickFormat(d => String(d)).tickSizeInner(-3).tickSizeOuter(0).tickPadding(5))
  ;[xAxis, yAxis].forEach(a => {
    a.select('.domain').attr('stroke', axisColor)
    a.selectAll('.tick line').attr('stroke', axisColor)
    a.selectAll('.tick text').attr('fill', textColor).attr('font-size', 12.5).attr('font-family', '"Liberation Sans", Arial, sans-serif')
  })

  // solution box lines
  const [bx1, bx2, by1, by2] = p.box
  const [xMin, xMax] = p.xDomain
  const [yMin, yMax] = p.yDomain
  const lines = g.append('g').attr('stroke', '#000').attr('stroke-width', 3).attr('fill', 'none')
  const dashed = [
    [[bx1, yMin], [bx1, yMax]], [[bx2, yMin], [bx2, yMax]],
    [[xMin, by1], [xMax, by1]], [[xMin, by2], [xMax, by2]],
  ]
  const solid = [
    [[bx1, by1], [bx1, by2]], [[bx2, by1], [bx2, by2]],
    [[bx1, by1], [bx2, by1]], [[bx1, by2], [bx2, by2]],
  ]
  dashed.forEach(s => {
    lines.append('line')
      .attr('x1', x(s[0][0])).attr('y1', y(s[0][1]))
      .attr('x2', x(s[1][0])).attr('y2', y(s[1][1]))
      .attr('stroke-dasharray', '12,6')
  })
  solid.forEach(s => {
    lines.append('line')
      .attr('x1', x(s[0][0])).attr('y1', y(s[0][1]))
      .attr('x2', x(s[1][0])).attr('y2', y(s[1][1]))
  })
  g.append('g')
    .selectAll('circle')
    .data([[bx1, by1], [bx2, by1], [bx1, by2], [bx2, by2]])
    .join('circle')
    .attr('cx', d => x(d[0]))
    .attr('cy', d => y(d[1]))
    .attr('r', 4.5)
    .attr('fill', '#000')

  // labels
  rich(g.append('text')
    .attr('x', plotW / 2).attr('y', -8)
    .attr('text-anchor', 'middle')
    .attr('font-size', 14).attr('font-weight', 'bold').attr('fill', '#000'), p.title, 14, 5)
  rich(g.append('text')
    .attr('x', plotW / 2).attr('y', plotH + 34)
    .attr('text-anchor', 'middle')
    .attr('font-size', 14).attr('fill', textColor), p.xLabel, 14, 7)
  rich(g.append('text')
    .attr('transform', `translate(-41,${plotH / 2}) rotate(-90)`)
    .attr('text-anchor', 'middle')
    .attr('font-size', 14).attr('fill', textColor), p.yLabel, 14, 7)
})

// legend
const legend = svg.append('g')
legend.append('rect')
  .attr('x', 979.5).attr('y', 293.5)
  .attr('width', 152).attr('height', 200)
  .attr('fill', '#fff').attr('stroke', '#262626').attr('stroke-width', 1)
let ly = 313
categoryLabels.forEach((parts, i) => {
  legend.append('circle')
    .attr('cx', 992).attr('cy', ly - 5)
    .attr('r', 2.6)
    .attr('fill', categoryColors[i])
  rich(legend.append('text')
    .attr('x', 1001).attr('y', ly)
    .attr('font-size', 14).attr('fill', '#000'), parts, 14, 7)
  ly += 18 + (parts.some(s => s.startsWith('_')) ? 7.5 : 0)
})
</script>
</body>
</html>
